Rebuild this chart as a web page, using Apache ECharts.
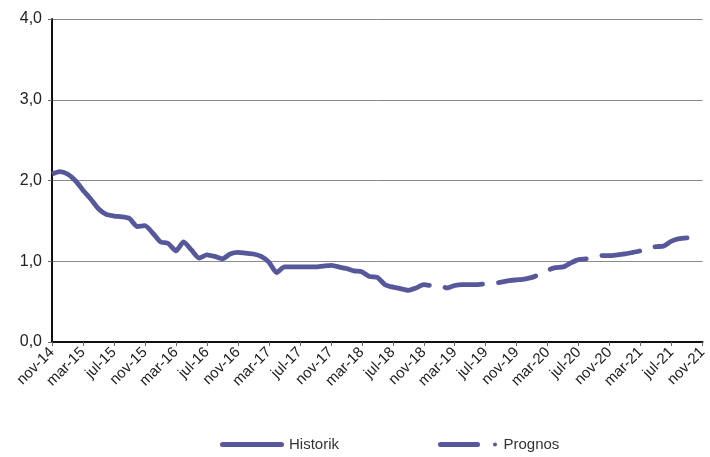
<!DOCTYPE html>
<html>
<head>
<meta charset="utf-8">
<script src="https://cdn.jsdelivr.net/npm/echarts@6/dist/echarts.min.js"></script>
<style>html,body{margin:0;padding:0;background:#fff}#c{width:710px;height:457px}</style>
</head>
<body>
<div id="c"></div>
<script>
// Month names (Swedish) and period range: nov-14 .. nov-21
const monthNames = ['jan','feb','mar','apr','maj','jun','jul','aug','sep','okt','nov','dec'];
const startYear = 2014, startMonth = 10, monthCount = 85;
const categories = [];
for (let k = 0; k < monthCount; k++) {
  const m = (startMonth + k) % 12;
  const y = startYear + Math.floor((startMonth + k) / 12);
  categories.push(monthNames[m] + '-' + String(y).slice(2));
}

// Historik: nov-14 .. jul-18
const historik = [2.08,2.11,2.08,2.00,1.88,1.77,1.65,1.58,1.56,1.55,1.53,1.43,1.44,1.35,1.24,1.22,1.13,1.24,1.14,1.04,
  1.08,1.06,1.03,1.09,1.11,1.10,1.09,1.06,0.99,0.86,0.93,0.93,0.93,0.93,0.93,0.94,0.95,0.93,0.91,0.88,
  0.87,0.81,0.80,0.71,0.68];
// Prognos: jul-18 .. sep-21
const prognos = [0.68,0.66,0.64,0.67,0.71,0.70,0.70,0.67,0.70,0.71,0.71,0.71,0.72,0.73,0.74,0.76,0.77,0.78,0.80,
  0.84,0.89,0.92,0.93,0.98,1.02,1.03,1.05,1.07,1.07,1.08,1.09,1.11,1.13,1.16,1.18,1.19,1.25,1.28,1.29];

const yTicks = { min: 0, max: 4, interval: 1 };

const histData = categories.map((c, i) => i < historik.length ? historik[i] : null);
const progStart = historik.length - 1;
const progData = categories.map((c, i) => (i >= progStart && i - progStart < prognos.length) ? prognos[i - progStart] : null);

const color = '#57579b';
const font = 'Liberation Sans';
const chart = echarts.init(document.getElementById('c'));
chart.setOption({
  animation: false,
  grid: { left: 52, right: 4, top: 19, bottom: 115, containLabel: false },
  legend: [
    { data: ['Historik'], left: 215, bottom: 0, itemWidth: 64, itemHeight: 5, itemGap: 6,
      icon: 'path://M2.5,0h59a2.5,2.5 0 0 1 0,5h-59a2.5,2.5 0 0 1 0,-5z',
      textStyle: { fontSize: 15, color: '#333', fontFamily: font } },
    { data: ['Prognos'], left: 433, bottom: 0, itemWidth: 62, itemHeight: 5, itemGap: 6,
      icon: 'path://M2.5,0h37a2.5,2.5 0 0 1 0,5h-37a2.5,2.5 0 0 1 0,-5z M57,0.5a2,2 0 1 1 0,4a2,2 0 1 1 0,-4z',
      textStyle: { fontSize: 15, color: '#333', fontFamily: font } }
  ],
  xAxis: {
    type: 'category', data: categories, boundaryGap: false,
    axisLine: { lineStyle: { color: '#111', width: 2 } },
    axisTick: { interval: 3, length: 4, lineStyle: { color: '#666' } },
    axisLabel: { interval: 3, rotate: 45, fontSize: 15, color: '#222', fontFamily: font, margin: 8 },
    splitLine: { show: false }
  },
  yAxis: {
    type: 'value', min: yTicks.min, max: yTicks.max, interval: yTicks.interval,
    axisLine: { show: true, lineStyle: { color: '#111', width: 2 } },
    axisTick: { show: true, length: 4, lineStyle: { color: '#666' } },
    axisLabel: { fontSize: 16, color: '#222', fontFamily: font, margin: 10,
      formatter: v => v.toFixed(1).replace('.', ',') },
    splitLine: { lineStyle: { color: '#8a8a8a', width: 1 } }
  },
  series: [
    { name: 'Historik', type: 'line', data: histData, symbol: 'none', smooth: 0.2,
      lineStyle: { color: color, width: 4.8 }, itemStyle: { color: color } },
    { name: 'Prognos', type: 'line', data: progData, symbol: 'none', smooth: 0.2,
      lineStyle: { color: color, width: 4.8, type: [38, 16], cap: 'round' }, itemStyle: { color: color } }
  ]
});
</script>
</body>
</html>
